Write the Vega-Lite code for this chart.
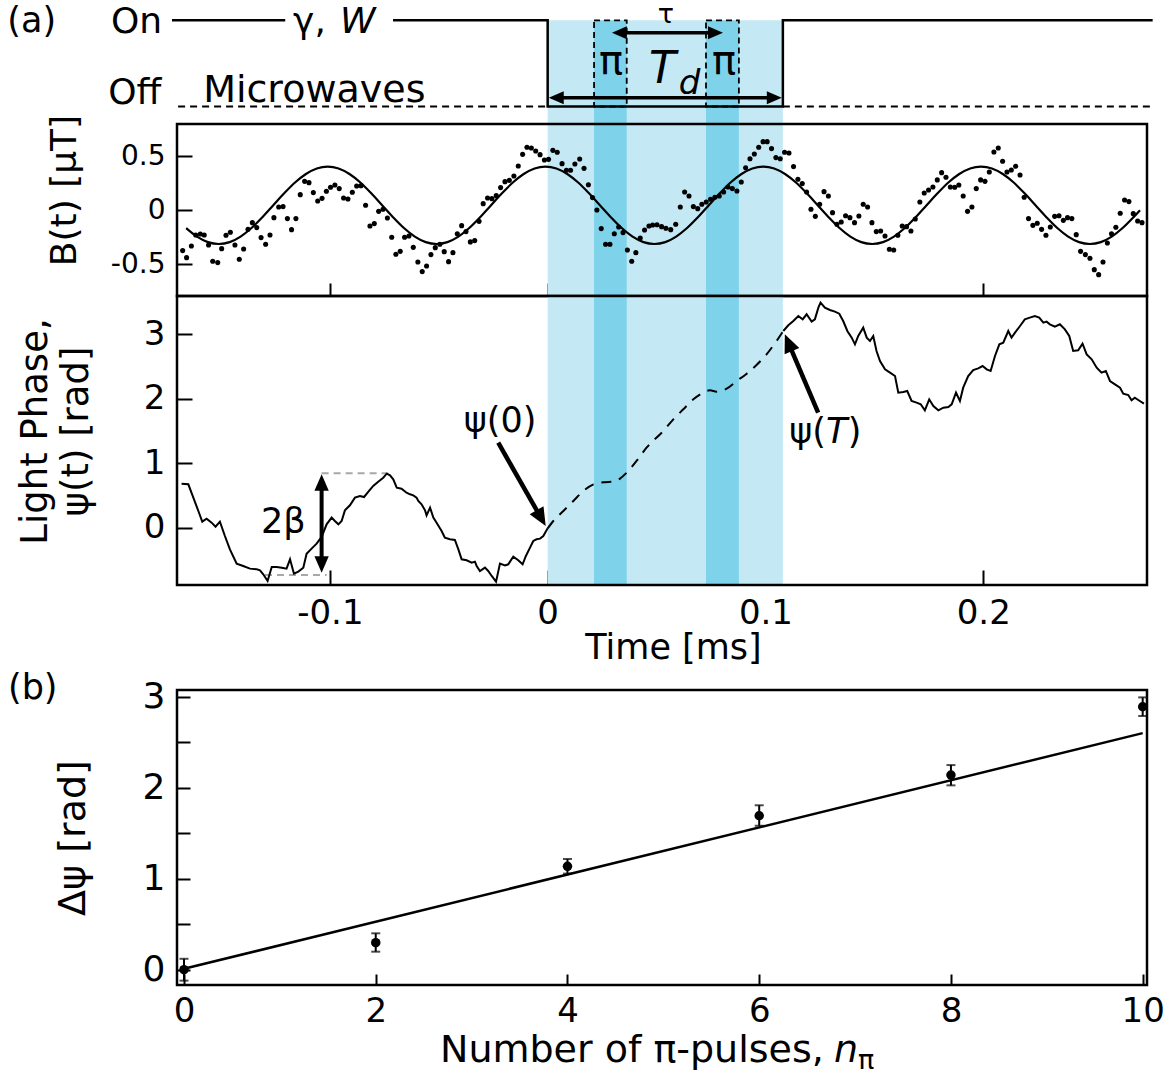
{
"$schema":"https://vega.github.io/schema/vega-lite/v6.json",
"padding":{"left":7,"top":0,"right":0,"bottom":0},
"background":"white",
"config":{"font":"DejaVu Sans","mark":{"color":"black"},"view":{"stroke":null},
"axis":{"domain":false,"grid":false,"ticks":true,"tickColor":"black","tickWidth":2,"labelFont":"DejaVu Sans","titleFont":"DejaVu Sans","labelColor":"black","titleColor":"black","titleFontWeight":"normal","zindex":1,"labelOverlap":false,"labelFlush":false}},
"datasets":{
"bands":[{"t1":0,"t2":0.108,"kind":"Td"},{"t1":0.0213,"t2":0.0363,"kind":"pi"},{"t1":0.0727,"t2":0.0878,"kind":"pi"}],
"pulse_on":[{"seg":"a","i":0,"t":-0.1725,"lvl":1},{"seg":"a","i":1,"t":-0.1205,"lvl":1},{"seg":"b","i":0,"t":-0.071,"lvl":1},{"seg":"b","i":1,"t":0,"lvl":1},{"seg":"b","i":2,"t":0,"lvl":0},{"seg":"b","i":3,"t":0.108,"lvl":0},{"seg":"b","i":4,"t":0.108,"lvl":1},{"seg":"b","i":5,"t":0.2778,"lvl":1}],
"pulse_off":[{"seg":"a","t":-0.1697,"lvl":0},{"seg":"a","t":0,"lvl":0},{"seg":"b","t":0.108,"lvl":0},{"seg":"b","t":0.2778,"lvl":0}],
"bfit":[{"t":-0.166,"b":-0.164},{"t":-0.161,"b":-0.243},{"t":-0.156,"b":-0.294},{"t":-0.151,"b":-0.311},{"t":-0.146,"b":-0.294},{"t":-0.141,"b":-0.243},{"t":-0.136,"b":-0.164},{"t":-0.131,"b":-0.064},{"t":-0.126,"b":0.046},{"t":-0.121,"b":0.156},{"t":-0.116,"b":0.256},{"t":-0.111,"b":0.335},{"t":-0.106,"b":0.386},{"t":-0.101,"b":0.403},{"t":-0.096,"b":0.386},{"t":-0.091,"b":0.335},{"t":-0.086,"b":0.256},{"t":-0.081,"b":0.156},{"t":-0.076,"b":0.046},{"t":-0.071,"b":-0.064},{"t":-0.066,"b":-0.164},{"t":-0.061,"b":-0.243},{"t":-0.056,"b":-0.294},{"t":-0.051,"b":-0.311},{"t":-0.046,"b":-0.294},{"t":-0.041,"b":-0.243},{"t":-0.036,"b":-0.164},{"t":-0.031,"b":-0.064},{"t":-0.026,"b":0.046},{"t":-0.021,"b":0.156},{"t":-0.016,"b":0.256},{"t":-0.011,"b":0.335},{"t":-0.006,"b":0.386},{"t":-0.001,"b":0.403},{"t":0.004,"b":0.386},{"t":0.009,"b":0.335},{"t":0.014,"b":0.256},{"t":0.019,"b":0.156},{"t":0.024,"b":0.046},{"t":0.029,"b":-0.064},{"t":0.034,"b":-0.164},{"t":0.039,"b":-0.243},{"t":0.044,"b":-0.294},{"t":0.049,"b":-0.311},{"t":0.054,"b":-0.294},{"t":0.059,"b":-0.243},{"t":0.064,"b":-0.164},{"t":0.069,"b":-0.064},{"t":0.074,"b":0.046},{"t":0.079,"b":0.156},{"t":0.084,"b":0.256},{"t":0.089,"b":0.335},{"t":0.094,"b":0.386},{"t":0.099,"b":0.403},{"t":0.104,"b":0.386},{"t":0.109,"b":0.335},{"t":0.114,"b":0.256},{"t":0.119,"b":0.156},{"t":0.124,"b":0.046},{"t":0.129,"b":-0.064},{"t":0.134,"b":-0.164},{"t":0.139,"b":-0.243},{"t":0.144,"b":-0.294},{"t":0.149,"b":-0.311},{"t":0.154,"b":-0.294},{"t":0.159,"b":-0.243},{"t":0.164,"b":-0.164},{"t":0.169,"b":-0.064},{"t":0.174,"b":0.046},{"t":0.179,"b":0.156},{"t":0.184,"b":0.256},{"t":0.189,"b":0.335},{"t":0.194,"b":0.386},{"t":0.199,"b":0.403},{"t":0.204,"b":0.386},{"t":0.209,"b":0.335},{"t":0.214,"b":0.256},{"t":0.219,"b":0.156},{"t":0.224,"b":0.046},{"t":0.229,"b":-0.064},{"t":0.234,"b":-0.164},{"t":0.239,"b":-0.243},{"t":0.244,"b":-0.294},{"t":0.249,"b":-0.311},{"t":0.254,"b":-0.294},{"t":0.259,"b":-0.243},{"t":0.264,"b":-0.164},{"t":0.269,"b":-0.064},{"t":0.272,"b":0.001}],
"bdots":[{"t":-0.1676,"b":-0.372},{"t":-0.1658,"b":-0.437},{"t":-0.1636,"b":-0.329},{"t":-0.1616,"b":-0.228},{"t":-0.1595,"b":-0.219},{"t":-0.1577,"b":-0.228},{"t":-0.1557,"b":-0.32},{"t":-0.1538,"b":-0.471},{"t":-0.1515,"b":-0.483},{"t":-0.1497,"b":-0.354},{"t":-0.1477,"b":-0.231},{"t":-0.1457,"b":-0.203},{"t":-0.1436,"b":-0.32},{"t":-0.1416,"b":-0.452},{"t":-0.1396,"b":-0.357},{"t":-0.1376,"b":-0.176},{"t":-0.1356,"b":-0.114},{"t":-0.1336,"b":-0.16},{"t":-0.1316,"b":-0.252},{"t":-0.1295,"b":-0.314},{"t":-0.1275,"b":-0.228},{"t":-0.1257,"b":-0.068},{"t":-0.1235,"b":0.03},{"t":-0.1215,"b":0.034},{"t":-0.1195,"b":-0.077},{"t":-0.1176,"b":-0.179},{"t":-0.1156,"b":-0.077},{"t":-0.1136,"b":0.144},{"t":-0.1116,"b":0.267},{"t":-0.1096,"b":0.255},{"t":-0.1076,"b":0.163},{"t":-0.1056,"b":0.086},{"t":-0.1036,"b":0.11},{"t":-0.1016,"b":0.175},{"t":-0.0997,"b":0.212},{"t":-0.0977,"b":0.233},{"t":-0.0957,"b":0.2},{"t":-0.0937,"b":0.113},{"t":-0.0917,"b":0.104},{"t":-0.0897,"b":0.166},{"t":-0.0877,"b":0.224},{"t":-0.0857,"b":0.227},{"t":-0.0836,"b":0.046},{"t":-0.0816,"b":-0.145},{"t":-0.0796,"b":-0.123},{"t":-0.0776,"b":-0.01},{"t":-0.0756,"b":0.009},{"t":-0.0736,"b":-0.071},{"t":-0.0716,"b":-0.249},{"t":-0.0697,"b":-0.406},{"t":-0.0677,"b":-0.379},{"t":-0.0657,"b":-0.249},{"t":-0.0637,"b":-0.237},{"t":-0.0617,"b":-0.342},{"t":-0.0596,"b":-0.477},{"t":-0.0576,"b":-0.566},{"t":-0.0556,"b":-0.514},{"t":-0.0536,"b":-0.409},{"t":-0.0516,"b":-0.345},{"t":-0.0495,"b":-0.314},{"t":-0.0475,"b":-0.382},{"t":-0.0455,"b":-0.474},{"t":-0.0435,"b":-0.391},{"t":-0.0415,"b":-0.216},{"t":-0.0395,"b":-0.142},{"t":-0.0375,"b":-0.197},{"t":-0.0355,"b":-0.292},{"t":-0.0335,"b":-0.28},{"t":-0.0315,"b":-0.102},{"t":-0.0296,"b":0.061},{"t":-0.0276,"b":0.113},{"t":-0.0256,"b":0.107},{"t":-0.0236,"b":0.135},{"t":-0.0216,"b":0.209},{"t":-0.0196,"b":0.264},{"t":-0.0176,"b":0.276},{"t":-0.0155,"b":0.316},{"t":-0.0135,"b":0.409},{"t":-0.0115,"b":0.516},{"t":-0.0095,"b":0.581},{"t":-0.0075,"b":0.575},{"t":-0.0055,"b":0.547},{"t":-0.0035,"b":0.513},{"t":-0.0015,"b":0.464},{"t":0.0004,"b":0.47},{"t":0.0024,"b":0.553},{"t":0.0044,"b":0.535},{"t":0.0066,"b":0.43},{"t":0.0086,"b":0.369},{"t":0.0105,"b":0.369},{"t":0.0125,"b":0.427},{"t":0.0147,"b":0.473},{"t":0.0167,"b":0.387},{"t":0.0187,"b":0.236},{"t":0.0206,"b":0.117},{"t":0.0226,"b":0.003},{"t":0.0246,"b":-0.169},{"t":0.0266,"b":-0.314},{"t":0.0286,"b":-0.314},{"t":0.0306,"b":-0.216},{"t":0.0326,"b":-0.154},{"t":0.0346,"b":-0.206},{"t":0.0366,"b":-0.366},{"t":0.0386,"b":-0.471},{"t":0.0405,"b":-0.391},{"t":0.0425,"b":-0.256},{"t":0.0445,"b":-0.182},{"t":0.0465,"b":-0.145},{"t":0.0482,"b":-0.136},{"t":0.0502,"b":-0.133},{"t":0.0523,"b":-0.151},{"t":0.0543,"b":-0.166},{"t":0.0565,"b":-0.179},{"t":0.0588,"b":-0.129},{"t":0.0609,"b":0.03},{"t":0.0629,"b":0.169},{"t":0.0649,"b":0.132},{"t":0.0669,"b":0.034},{"t":0.0689,"b":0.015},{"t":0.0708,"b":0.055},{"t":0.0728,"b":0.077},{"t":0.0748,"b":0.101},{"t":0.0768,"b":0.12},{"t":0.0788,"b":0.132},{"t":0.0808,"b":0.169},{"t":0.0828,"b":0.215},{"t":0.0848,"b":0.2},{"t":0.0869,"b":0.178},{"t":0.0889,"b":0.261},{"t":0.0909,"b":0.393},{"t":0.0929,"b":0.476},{"t":0.0949,"b":0.519},{"t":0.0969,"b":0.581},{"t":0.0989,"b":0.633},{"t":0.1008,"b":0.633},{"t":0.1028,"b":0.569},{"t":0.1048,"b":0.486},{"t":0.1068,"b":0.476},{"t":0.1088,"b":0.535},{"t":0.1108,"b":0.529},{"t":0.1129,"b":0.403},{"t":0.1149,"b":0.286},{"t":0.1169,"b":0.246},{"t":0.1189,"b":0.169},{"t":0.1209,"b":0.009},{"t":0.1229,"b":-0.056},{"t":0.1249,"b":0.055},{"t":0.1269,"b":0.172},{"t":0.1289,"b":0.132},{"t":0.1308,"b":-0.022},{"t":0.1328,"b":-0.129},{"t":0.1348,"b":-0.108},{"t":0.1368,"b":-0.05},{"t":0.1388,"b":-0.068},{"t":0.1409,"b":-0.114},{"t":0.1429,"b":-0.053},{"t":0.1449,"b":0.055},{"t":0.1469,"b":0.03},{"t":0.1489,"b":-0.114},{"t":0.1509,"b":-0.197},{"t":0.1529,"b":-0.191},{"t":0.1549,"b":-0.237},{"t":0.1569,"b":-0.36},{"t":0.1589,"b":-0.366},{"t":0.1608,"b":-0.231},{"t":0.1628,"b":-0.145},{"t":0.1648,"b":-0.151},{"t":0.1668,"b":-0.191},{"t":0.1688,"b":-0.08},{"t":0.1709,"b":0.077},{"t":0.1729,"b":0.16},{"t":0.1749,"b":0.187},{"t":0.1769,"b":0.215},{"t":0.1789,"b":0.28},{"t":0.1809,"b":0.347},{"t":0.1829,"b":0.304},{"t":0.1849,"b":0.215},{"t":0.1869,"b":0.212},{"t":0.1888,"b":0.233},{"t":0.1908,"b":0.132},{"t":0.1928,"b":-0.01},{"t":0.1948,"b":0.03},{"t":0.1968,"b":0.2},{"t":0.1988,"b":0.28},{"t":0.2008,"b":0.267},{"t":0.2028,"b":0.353},{"t":0.2049,"b":0.538},{"t":0.2069,"b":0.575},{"t":0.2089,"b":0.452},{"t":0.2109,"b":0.353},{"t":0.2129,"b":0.372},{"t":0.2149,"b":0.406},{"t":0.2169,"b":0.326},{"t":0.2188,"b":0.12},{"t":0.2208,"b":-0.077},{"t":0.2228,"b":-0.139},{"t":0.2248,"b":-0.12},{"t":0.2268,"b":-0.176},{"t":0.2288,"b":-0.231},{"t":0.2308,"b":-0.154},{"t":0.2328,"b":-0.056},{"t":0.2348,"b":-0.05},{"t":0.2368,"b":-0.093},{"t":0.2387,"b":-0.068},{"t":0.2407,"b":-0.077},{"t":0.2427,"b":-0.225},{"t":0.2447,"b":-0.379},{"t":0.2469,"b":-0.409},{"t":0.249,"b":-0.443},{"t":0.251,"b":-0.548},{"t":0.253,"b":-0.594},{"t":0.255,"b":-0.477},{"t":0.257,"b":-0.302},{"t":0.2589,"b":-0.216},{"t":0.2609,"b":-0.157},{"t":0.2629,"b":-0.028},{"t":0.2649,"b":0.095},{"t":0.2669,"b":0.08},{"t":0.2689,"b":-0.031},{"t":0.2709,"b":-0.099},{"t":0.2729,"b":-0.114}],
"phase_pre":[{"t":-0.1681,"p":0.683},{"t":-0.165,"p":0.673},{"t":-0.1627,"p":0.466},{"t":-0.1604,"p":0.259},{"t":-0.1586,"p":0.094},{"t":-0.1566,"p":0.14},{"t":-0.1543,"p":0.078},{"t":-0.1525,"p":0.016},{"t":-0.1505,"p":0.094},{"t":-0.1482,"p":-0.129},{"t":-0.1459,"p":-0.336},{"t":-0.1428,"p":-0.558},{"t":-0.1398,"p":-0.594},{"t":-0.1367,"p":-0.635},{"t":-0.1336,"p":-0.646},{"t":-0.1321,"p":-0.661},{"t":-0.1306,"p":-0.723},{"t":-0.1286,"p":-0.827},{"t":-0.1267,"p":-0.61},{"t":-0.1244,"p":-0.61},{"t":-0.1221,"p":-0.62},{"t":-0.1199,"p":-0.635},{"t":-0.1183,"p":-0.491},{"t":-0.1165,"p":-0.713},{"t":-0.1145,"p":-0.682},{"t":-0.1122,"p":-0.62},{"t":-0.1107,"p":-0.403},{"t":-0.1084,"p":-0.325},{"t":-0.1061,"p":-0.248},{"t":-0.1038,"p":-0.144},{"t":-0.1015,"p":0.052},{"t":-0.0992,"p":0.156},{"t":-0.0977,"p":0.104},{"t":-0.0961,"p":0.052},{"t":-0.0946,"p":0.104},{"t":-0.0931,"p":0.269},{"t":-0.0908,"p":0.347},{"t":-0.0885,"p":0.466},{"t":-0.0862,"p":0.492},{"t":-0.0843,"p":0.476},{"t":-0.0824,"p":0.554},{"t":-0.0801,"p":0.647},{"t":-0.0778,"p":0.714},{"t":-0.0755,"p":0.776},{"t":-0.0739,"p":0.838},{"t":-0.0724,"p":0.812},{"t":-0.0709,"p":0.75},{"t":-0.0693,"p":0.621},{"t":-0.0671,"p":0.605},{"t":-0.0648,"p":0.543},{"t":-0.0632,"p":0.518},{"t":-0.0617,"p":0.502},{"t":-0.0602,"p":0.466},{"t":-0.0594,"p":0.414},{"t":-0.0579,"p":0.362},{"t":-0.0563,"p":0.269},{"t":-0.0556,"p":0.192},{"t":-0.054,"p":0.311},{"t":-0.0525,"p":0.156},{"t":-0.051,"p":0.078},{"t":-0.0487,"p":-0.051},{"t":-0.0472,"p":-0.155},{"t":-0.0449,"p":-0.18},{"t":-0.0426,"p":-0.191},{"t":-0.041,"p":-0.336},{"t":-0.0395,"p":-0.491},{"t":-0.0372,"p":-0.506},{"t":-0.0349,"p":-0.542},{"t":-0.0334,"p":-0.527},{"t":-0.0326,"p":-0.594},{"t":-0.0311,"p":-0.672},{"t":-0.0288,"p":-0.62},{"t":-0.0273,"p":-0.672},{"t":-0.0257,"p":-0.749},{"t":-0.0237,"p":-0.837},{"t":-0.0219,"p":-0.558},{"t":-0.0196,"p":-0.584},{"t":-0.0181,"p":-0.568},{"t":-0.0158,"p":-0.449},{"t":-0.0135,"p":-0.506},{"t":-0.0115,"p":-0.568},{"t":-0.01,"p":-0.439},{"t":-0.0081,"p":-0.31},{"t":-0.0066,"p":-0.206},{"t":-0.0051,"p":-0.18},{"t":-0.0035,"p":-0.17},{"t":-0.002,"p":-0.129},{"t":-0.0009,"p":-0.062},{"t":0,"p":-0.01}],
"phase_dash":[{"t":0,"p":-0.01},{"t":0.0026,"p":0.104},{"t":0.0072,"p":0.259},{"t":0.0118,"p":0.414},{"t":0.0164,"p":0.569},{"t":0.021,"p":0.673},{"t":0.0255,"p":0.704},{"t":0.0301,"p":0.714},{"t":0.0332,"p":0.761},{"t":0.0363,"p":0.854},{"t":0.0408,"p":1.035},{"t":0.0454,"p":1.241},{"t":0.0531,"p":1.5},{"t":0.0577,"p":1.681},{"t":0.0623,"p":1.836},{"t":0.0669,"p":1.991},{"t":0.0715,"p":2.095},{"t":0.0745,"p":2.131},{"t":0.0776,"p":2.11},{"t":0.0822,"p":2.157},{"t":0.0868,"p":2.276},{"t":0.0914,"p":2.389},{"t":0.0959,"p":2.524},{"t":0.1005,"p":2.689},{"t":0.1051,"p":2.896},{"t":0.1082,"p":3.051}],
"phase_post":[{"t":0.1082,"p":3.051},{"t":0.1105,"p":3.139},{"t":0.1128,"p":3.206},{"t":0.1151,"p":3.284},{"t":0.1171,"p":3.232},{"t":0.1189,"p":3.31},{"t":0.1212,"p":3.196},{"t":0.1227,"p":3.232},{"t":0.1243,"p":3.413},{"t":0.1253,"p":3.491},{"t":0.1273,"p":3.413},{"t":0.1296,"p":3.377},{"t":0.1319,"p":3.351},{"t":0.1339,"p":3.32},{"t":0.1357,"p":3.206},{"t":0.1376,"p":3.051},{"t":0.1396,"p":2.948},{"t":0.1411,"p":2.844},{"t":0.1426,"p":2.974},{"t":0.1449,"p":3.103},{"t":0.1465,"p":2.948},{"t":0.148,"p":2.896},{"t":0.1495,"p":2.974},{"t":0.151,"p":2.741},{"t":0.1526,"p":2.586},{"t":0.1549,"p":2.457},{"t":0.1572,"p":2.405},{"t":0.1595,"p":2.353},{"t":0.161,"p":2.095},{"t":0.1633,"p":2.105},{"t":0.1651,"p":2.12},{"t":0.1671,"p":1.965},{"t":0.1694,"p":1.94},{"t":0.1713,"p":1.914},{"t":0.1732,"p":1.821},{"t":0.1752,"p":1.991},{"t":0.1771,"p":1.888},{"t":0.1794,"p":1.821},{"t":0.1817,"p":1.862},{"t":0.184,"p":1.872},{"t":0.1855,"p":1.914},{"t":0.1875,"p":2.095},{"t":0.1893,"p":1.965},{"t":0.1908,"p":2.172},{"t":0.1931,"p":2.353},{"t":0.1954,"p":2.446},{"t":0.1977,"p":2.472},{"t":0.1997,"p":2.508},{"t":0.2016,"p":2.457},{"t":0.2034,"p":2.431},{"t":0.2054,"p":2.663},{"t":0.2074,"p":2.844},{"t":0.2092,"p":2.87},{"t":0.2115,"p":3.051},{"t":0.213,"p":2.948},{"t":0.2146,"p":3.025},{"t":0.2169,"p":3.129},{"t":0.2191,"p":3.232},{"t":0.2214,"p":3.258},{"t":0.2237,"p":3.284},{"t":0.2257,"p":3.258},{"t":0.2276,"p":3.18},{"t":0.2291,"p":3.196},{"t":0.2306,"p":3.155},{"t":0.2329,"p":3.118},{"t":0.2352,"p":3.155},{"t":0.2375,"p":3.077},{"t":0.2395,"p":2.974},{"t":0.2413,"p":2.741},{"t":0.2436,"p":2.751},{"t":0.2456,"p":2.855},{"t":0.2475,"p":2.689},{"t":0.2498,"p":2.612},{"t":0.2521,"p":2.482},{"t":0.2543,"p":2.405},{"t":0.2563,"p":2.431},{"t":0.2582,"p":2.276},{"t":0.2605,"p":2.224},{"t":0.2628,"p":2.172},{"t":0.2643,"p":2.079},{"t":0.2666,"p":2.058},{"t":0.2681,"p":1.976},{"t":0.2696,"p":2.017},{"t":0.2719,"p":1.965},{"t":0.2738,"p":1.924}],
"npi":[{"n":0,"d":0.0,"lo":-0.12,"hi":0.12},{"n":2,"d":0.297,"lo":0.198,"hi":0.4},{"n":4,"d":1.136,"lo":1.056,"hi":1.217},{"n":6,"d":1.692,"lo":1.582,"hi":1.807},{"n":8,"d":2.14,"lo":2.026,"hi":2.249},{"n":10,"d":2.89,"lo":2.788,"hi":2.993}],
"npi_fit":[{"n":0,"d":0.01},{"n":10,"d":2.6}]
},
"spacing":0,
"bounds":"flush",
"resolve":{"scale":{"x":"independent","y":"independent"}},
"vconcat":[
{"width":970,"height":123,
"layer":[
{"data":{"name":"bands"},"mark":{"type":"rect"},"encoding":{"x":{"field":"t1","type":"quantitative","scale":{"domain":[-0.1702,0.2752],"nice":false,"zero":false},"axis":null},"x2":{"field":"t2"},"y":{"datum":-0.203,"type":"quantitative","scale":{"domain":[-0.203,1.224],"nice":false,"zero":false},"axis":null},"y2":{"datum":1},"fill":{"field":"kind","type":"nominal","scale":{"domain":["Td","pi"],"range":["#C5E9F4","#7ED3EA"]},"legend":null}}},
{"data":{"name":"bands"},"transform":[{"filter":"datum.kind === 'pi'"}],"mark":{"type":"rect","filled":false,"stroke":"black","strokeWidth":1.8,"strokeDash":[6,4]},"encoding":{"x":{"field":"t1","type":"quantitative","scale":{"domain":[-0.1702,0.2752],"nice":false,"zero":false},"axis":null},"x2":{"field":"t2"},"y":{"datum":0,"type":"quantitative","scale":{"domain":[-0.203,1.224],"nice":false,"zero":false},"axis":null},"y2":{"datum":1}}},
{"data":{"name":"pulse_off"},"mark":{"type":"line","strokeWidth":1.8,"strokeDash":[7,5]},"encoding":{"x":{"field":"t","type":"quantitative","scale":{"domain":[-0.1702,0.2752],"nice":false,"zero":false},"axis":null},"y":{"field":"lvl","type":"quantitative","scale":{"domain":[-0.203,1.224],"nice":false,"zero":false},"axis":null},"detail":{"field":"seg"}}},
{"data":{"name":"pulse_on"},"mark":{"type":"line","strokeWidth":2.5},"encoding":{"x":{"field":"t","type":"quantitative","scale":{"domain":[-0.1702,0.2752],"nice":false,"zero":false},"axis":null},"y":{"field":"lvl","type":"quantitative","scale":{"domain":[-0.203,1.224],"nice":false,"zero":false},"axis":null},"detail":{"field":"seg"},"order":{"field":"i"}}},
{"data":{"values":[{}]},"mark":{"type":"rule","strokeWidth":3.5},"encoding":{"x":{"datum":0.004,"type":"quantitative","scale":{"domain":[-0.1702,0.2752],"nice":false,"zero":false},"axis":null},"x2":{"datum":0.104},"y":{"datum":0.102,"type":"quantitative","scale":{"domain":[-0.203,1.224],"nice":false,"zero":false},"axis":null}}},
{"data":{"values":[{}]},"mark":{"type":"rule","strokeWidth":3.5},"encoding":{"x":{"datum":0.034,"type":"quantitative","scale":{"domain":[-0.1702,0.2752],"nice":false,"zero":false},"axis":null},"x2":{"datum":0.076},"y":{"datum":0.856,"type":"quantitative","scale":{"domain":[-0.203,1.224],"nice":false,"zero":false},"axis":null}}},
{"data":{"values":[{}]},"mark":{"type":"point","shape":"M0,0L0.7,1.6L-0.7,1.6Z","filled":true,"opacity":1,"size":350,"angle":270},"encoding":{"x":{"datum":0.0005,"type":"quantitative","scale":{"domain":[-0.1702,0.2752],"nice":false,"zero":false},"axis":null},"y":{"datum":0.102,"type":"quantitative","scale":{"domain":[-0.203,1.224],"nice":false,"zero":false},"axis":null}}},
{"data":{"values":[{}]},"mark":{"type":"point","shape":"M0,0L0.7,1.6L-0.7,1.6Z","filled":true,"opacity":1,"size":350,"angle":90},"encoding":{"x":{"datum":0.1075,"type":"quantitative","scale":{"domain":[-0.1702,0.2752],"nice":false,"zero":false},"axis":null},"y":{"datum":0.102,"type":"quantitative","scale":{"domain":[-0.203,1.224],"nice":false,"zero":false},"axis":null}}},
{"data":{"values":[{}]},"mark":{"type":"point","shape":"M0,0L0.7,1.6L-0.7,1.6Z","filled":true,"opacity":1,"size":350,"angle":270},"encoding":{"x":{"datum":0.0295,"type":"quantitative","scale":{"domain":[-0.1702,0.2752],"nice":false,"zero":false},"axis":null},"y":{"datum":0.856,"type":"quantitative","scale":{"domain":[-0.203,1.224],"nice":false,"zero":false},"axis":null}}},
{"data":{"values":[{}]},"mark":{"type":"point","shape":"M0,0L0.7,1.6L-0.7,1.6Z","filled":true,"opacity":1,"size":350,"angle":90},"encoding":{"x":{"datum":0.0805,"type":"quantitative","scale":{"domain":[-0.1702,0.2752],"nice":false,"zero":false},"axis":null},"y":{"datum":0.856,"type":"quantitative","scale":{"domain":[-0.203,1.224],"nice":false,"zero":false},"axis":null}}},
{"data":{"values":[{"s":"(a)","t":-0.2481,"v":0.864}]},"mark":{"type":"text","align":"left","baseline":"alphabetic","fontSize":35},"encoding":{"x":{"field":"t","type":"quantitative","scale":{"domain":[-0.1702,0.2752],"nice":false,"zero":false},"axis":null},"y":{"field":"v","type":"quantitative","scale":{"domain":[-0.203,1.224],"nice":false,"zero":false},"axis":null},"text":{"field":"s"}}},
{"data":{"values":[{"s":"On","t":-0.2005,"v":0.853},{"s":"Off","t":-0.2018,"v":0.028},{"s":"γ,","t":-0.1169,"v":0.853}]},"mark":{"type":"text","align":"left","baseline":"alphabetic","fontSize":36},"encoding":{"x":{"field":"t","type":"quantitative","scale":{"domain":[-0.1702,0.2752],"nice":false,"zero":false},"axis":null},"y":{"field":"v","type":"quantitative","scale":{"domain":[-0.203,1.224],"nice":false,"zero":false},"axis":null},"text":{"field":"s"}}},
{"data":{"values":[{"s":"W","t":-0.0953,"v":0.853}]},"mark":{"type":"text","align":"left","baseline":"alphabetic","fontSize":36,"fontStyle":"italic"},"encoding":{"x":{"field":"t","type":"quantitative","scale":{"domain":[-0.1702,0.2752],"nice":false,"zero":false},"axis":null},"y":{"field":"v","type":"quantitative","scale":{"domain":[-0.203,1.224],"nice":false,"zero":false},"axis":null},"text":{"field":"s"}}},
{"data":{"values":[{"s":"Microwaves","t":-0.1582,"v":0.052}]},"mark":{"type":"text","align":"left","baseline":"alphabetic","fontSize":38},"encoding":{"x":{"field":"t","type":"quantitative","scale":{"domain":[-0.1702,0.2752],"nice":false,"zero":false},"axis":null},"y":{"field":"v","type":"quantitative","scale":{"domain":[-0.203,1.224],"nice":false,"zero":false},"axis":null},"text":{"field":"s"}}},
{"data":{"values":[{"s":"π","t":0.0291,"v":0.377},{"s":"π","t":0.081,"v":0.377}]},"mark":{"type":"text","align":"center","baseline":"alphabetic","fontSize":40},"encoding":{"x":{"field":"t","type":"quantitative","scale":{"domain":[-0.1702,0.2752],"nice":false,"zero":false},"axis":null},"y":{"field":"v","type":"quantitative","scale":{"domain":[-0.203,1.224],"nice":false,"zero":false},"axis":null},"text":{"field":"s"}}},
{"data":{"values":[{"s":"τ","t":0.0543,"v":0.969}]},"mark":{"type":"text","align":"center","baseline":"alphabetic","fontSize":27},"encoding":{"x":{"field":"t","type":"quantitative","scale":{"domain":[-0.1702,0.2752],"nice":false,"zero":false},"axis":null},"y":{"field":"v","type":"quantitative","scale":{"domain":[-0.203,1.224],"nice":false,"zero":false},"axis":null},"text":{"field":"s"}}},
{"data":{"values":[{"s":"T","t":0.0465,"v":0.273}]},"mark":{"type":"text","align":"left","baseline":"alphabetic","fontSize":44,"fontStyle":"italic"},"encoding":{"x":{"field":"t","type":"quantitative","scale":{"domain":[-0.1702,0.2752],"nice":false,"zero":false},"axis":null},"y":{"field":"v","type":"quantitative","scale":{"domain":[-0.203,1.224],"nice":false,"zero":false},"axis":null},"text":{"field":"s"}}},
{"data":{"values":[{"s":"d","t":0.0602,"v":0.145}]},"mark":{"type":"text","align":"left","baseline":"alphabetic","fontSize":34,"fontStyle":"italic"},"encoding":{"x":{"field":"t","type":"quantitative","scale":{"domain":[-0.1702,0.2752],"nice":false,"zero":false},"axis":null},"y":{"field":"v","type":"quantitative","scale":{"domain":[-0.203,1.224],"nice":false,"zero":false},"axis":null},"text":{"field":"s"}}}
]},
{"width":970,"height":172,
"layer":[
{"data":{"name":"bands"},"mark":{"type":"rect"},"encoding":{"x":{"field":"t1","type":"quantitative","scale":{"domain":[-0.1702,0.2752],"nice":false,"zero":false},"axis":{"values":[-0.1,0,0.1,0.2],"labels":false,"tickSize":-13,"title":null}},"x2":{"field":"t2"},"fill":{"field":"kind","type":"nominal","scale":{"domain":["Td","pi"],"range":["#C5E9F4","#7ED3EA"]},"legend":null}}},
{"data":{"name":"bfit"},"mark":{"type":"line","strokeWidth":2.2,"interpolate":"monotone"},"encoding":{"x":{"field":"t","type":"quantitative","scale":{"domain":[-0.1702,0.2752],"nice":false,"zero":false}},"y":{"field":"b","type":"quantitative","scale":{"domain":[-0.791,0.796],"nice":false,"zero":false},"axis":{"values":[-0.5,0,0.5],"format":"~g","tickSize":-15,"labelPadding":27,"labelFontSize":28,"labelExpr":"replace(datum.label,'−','-')","title":"B(t) [μT]","titleFontSize":36,"titlePadding":27,"titleY":66}}}},
{"data":{"name":"bdots"},"mark":{"type":"circle","size":26,"opacity":1},"encoding":{"x":{"field":"t","type":"quantitative","scale":{"domain":[-0.1702,0.2752],"nice":false,"zero":false}},"y":{"field":"b","type":"quantitative","scale":{"domain":[-0.791,0.796],"nice":false,"zero":false}}}},
{"data":{"values":[{}]},"mark":{"type":"rect","filled":false,"stroke":"black","strokeWidth":2.5},"encoding":{"x":{"datum":-0.1702,"type":"quantitative","scale":{"domain":[-0.1702,0.2752],"nice":false,"zero":false}},"x2":{"datum":0.2752},"y":{"datum":-0.791,"type":"quantitative","scale":{"domain":[-0.791,0.796],"nice":false,"zero":false}},"y2":{"datum":0.796}}}
]},
{"width":970,"height":289,
"layer":[
{"data":{"name":"bands"},"mark":{"type":"rect"},"encoding":{"x":{"field":"t1","type":"quantitative","scale":{"domain":[-0.1702,0.2752],"nice":false,"zero":false},"axis":{"values":[-0.1,0,0.1,0.2],"format":"~g","tickSize":-15,"labelPadding":26,"labelFontSize":34,"labelExpr":"replace(datum.label,'−','-')","title":"Time [ms]","titleFontSize":35,"titleX":496,"titleY":73,"titleBaseline":"alphabetic","titleAlign":"center"}},"x2":{"field":"t2"},"fill":{"field":"kind","type":"nominal","scale":{"domain":["Td","pi"],"range":["#C5E9F4","#7ED3EA"]},"legend":null}}},
{"data":{"values":[{"g":"top","t":-0.1038,"p":0.844},{"g":"top","t":-0.0732,"p":0.844},{"g":"bot","t":-0.1298,"p":-0.734},{"g":"bot","t":-0.1015,"p":-0.734}]},"mark":{"type":"line","color":"#A8A8A8","strokeWidth":2,"strokeDash":[7,5]},"encoding":{"x":{"field":"t","type":"quantitative","scale":{"domain":[-0.1702,0.2752],"nice":false,"zero":false}},"y":{"field":"p","type":"quantitative","scale":{"domain":[-0.889,3.594],"nice":false,"zero":false}},"detail":{"field":"g"}}},
{"data":{"name":"phase_pre"},"mark":{"type":"line","strokeWidth":2},"encoding":{"x":{"field":"t","type":"quantitative","scale":{"domain":[-0.1702,0.2752],"nice":false,"zero":false}},"y":{"field":"p","type":"quantitative","scale":{"domain":[-0.889,3.594],"nice":false,"zero":false},"axis":{"values":[0,1,2,3],"format":"~g","tickSize":-15,"labelPadding":27,"labelFontSize":34,"title":["Light Phase,","ψ(t) [rad]"],"titleFontSize":37,"titleLineHeight":41,"titlePadding":48,"titleY":135}}}},
{"data":{"name":"phase_dash"},"mark":{"type":"line","strokeWidth":2,"strokeDash":[10,8],"interpolate":"monotone"},"encoding":{"x":{"field":"t","type":"quantitative","scale":{"domain":[-0.1702,0.2752],"nice":false,"zero":false}},"y":{"field":"p","type":"quantitative","scale":{"domain":[-0.889,3.594],"nice":false,"zero":false}}}},
{"data":{"name":"phase_post"},"mark":{"type":"line","strokeWidth":2},"encoding":{"x":{"field":"t","type":"quantitative","scale":{"domain":[-0.1702,0.2752],"nice":false,"zero":false}},"y":{"field":"p","type":"quantitative","scale":{"domain":[-0.889,3.594],"nice":false,"zero":false}}}},
{"data":{"values":[{}]},"mark":{"type":"rule","strokeWidth":4.5},"encoding":{"x":{"datum":-0.0227,"type":"quantitative","scale":{"domain":[-0.1702,0.2752],"nice":false,"zero":false}},"x2":{"datum":-0.0032},"y":{"datum":1.318,"type":"quantitative","scale":{"domain":[-0.889,3.594],"nice":false,"zero":false}},"y2":{"datum":0.162}}},
{"data":{"values":[{}]},"mark":{"type":"point","shape":"M0,0L0.7,1.6L-0.7,1.6Z","filled":true,"opacity":1,"size":520,"angle":150},"encoding":{"x":{"datum":-0.0009,"type":"quantitative","scale":{"domain":[-0.1702,0.2752],"nice":false,"zero":false}},"y":{"datum":0.026,"type":"quantitative","scale":{"domain":[-0.889,3.594],"nice":false,"zero":false}}}},
{"data":{"values":[{}]},"mark":{"type":"rule","strokeWidth":4.5},"encoding":{"x":{"datum":0.1242,"type":"quantitative","scale":{"domain":[-0.1702,0.2752],"nice":false,"zero":false}},"x2":{"datum":0.1107},"y":{"datum":1.784,"type":"quantitative","scale":{"domain":[-0.889,3.594],"nice":false,"zero":false}},"y2":{"datum":2.857}}},
{"data":{"values":[{}]},"mark":{"type":"point","shape":"M0,0L0.7,1.6L-0.7,1.6Z","filled":true,"opacity":1,"size":520,"angle":337},"encoding":{"x":{"datum":0.1089,"type":"quantitative","scale":{"domain":[-0.1702,0.2752],"nice":false,"zero":false}},"y":{"datum":3.0,"type":"quantitative","scale":{"domain":[-0.889,3.594],"nice":false,"zero":false}}}},
{"data":{"values":[{}]},"mark":{"type":"rule","strokeWidth":4},"encoding":{"x":{"datum":-0.1038,"type":"quantitative","scale":{"domain":[-0.1702,0.2752],"nice":false,"zero":false}},"y":{"datum":0.673,"type":"quantitative","scale":{"domain":[-0.889,3.594],"nice":false,"zero":false}},"y2":{"datum":-0.543}}},
{"data":{"values":[{}]},"mark":{"type":"point","shape":"M0,0L0.7,1.6L-0.7,1.6Z","filled":true,"opacity":1,"size":420,"angle":0},"encoding":{"x":{"datum":-0.1038,"type":"quantitative","scale":{"domain":[-0.1702,0.2752],"nice":false,"zero":false}},"y":{"datum":0.828,"type":"quantitative","scale":{"domain":[-0.889,3.594],"nice":false,"zero":false}}}},
{"data":{"values":[{}]},"mark":{"type":"point","shape":"M0,0L0.7,1.6L-0.7,1.6Z","filled":true,"opacity":1,"size":420,"angle":180},"encoding":{"x":{"datum":-0.1038,"type":"quantitative","scale":{"domain":[-0.1702,0.2752],"nice":false,"zero":false}},"y":{"datum":-0.699,"type":"quantitative","scale":{"domain":[-0.889,3.594],"nice":false,"zero":false}}}},
{"data":{"values":[{"s":"ψ(0)","t":-0.0219,"p":1.49},{"s":"2β","t":-0.1214,"p":-0.082}]},"mark":{"type":"text","align":"center","baseline":"alphabetic","fontSize":35},"encoding":{"x":{"field":"t","type":"quantitative","scale":{"domain":[-0.1702,0.2752],"nice":false,"zero":false}},"y":{"field":"p","type":"quantitative","scale":{"domain":[-0.889,3.594],"nice":false,"zero":false}},"text":{"field":"s"}}},
{"data":{"values":[{"s":"ψ(","t":0.1278,"p":1.314}]},"mark":{"type":"text","align":"right","baseline":"alphabetic","fontSize":35},"encoding":{"x":{"field":"t","type":"quantitative","scale":{"domain":[-0.1702,0.2752],"nice":false,"zero":false}},"y":{"field":"p","type":"quantitative","scale":{"domain":[-0.889,3.594],"nice":false,"zero":false}},"text":{"field":"s"}}},
{"data":{"values":[{"s":"T","t":0.1278,"p":1.314}]},"mark":{"type":"text","align":"left","baseline":"alphabetic","fontSize":35,"fontStyle":"italic"},"encoding":{"x":{"field":"t","type":"quantitative","scale":{"domain":[-0.1702,0.2752],"nice":false,"zero":false}},"y":{"field":"p","type":"quantitative","scale":{"domain":[-0.889,3.594],"nice":false,"zero":false}},"text":{"field":"s"}}},
{"data":{"values":[{"s":")","t":0.1378,"p":1.314}]},"mark":{"type":"text","align":"left","baseline":"alphabetic","fontSize":35},"encoding":{"x":{"field":"t","type":"quantitative","scale":{"domain":[-0.1702,0.2752],"nice":false,"zero":false}},"y":{"field":"p","type":"quantitative","scale":{"domain":[-0.889,3.594],"nice":false,"zero":false}},"text":{"field":"s"}}},
{"data":{"values":[{}]},"mark":{"type":"rect","filled":false,"stroke":"black","strokeWidth":2.5},"encoding":{"x":{"datum":-0.1702,"type":"quantitative","scale":{"domain":[-0.1702,0.2752],"nice":false,"zero":false}},"x2":{"datum":0.2752},"y":{"datum":-0.889,"type":"quantitative","scale":{"domain":[-0.889,3.594],"nice":false,"zero":false}},"y2":{"datum":3.594}}}
]},
{"width":970,"height":105,"data":{"values":[{}]},"mark":{"type":"text"},"encoding":{"text":{"value":""}}},
{"width":970,"height":295,
"layer":[
{"data":{"name":"npi_fit"},"mark":{"type":"line","strokeWidth":2.5},"encoding":{"x":{"field":"n","type":"quantitative","scale":{"domain":[-0.073,10.045],"nice":false,"zero":false},"axis":{"values":[0,2,4,6,8,10],"format":"~g","tickSize":-11,"labelPadding":20,"labelFontSize":34,"title":null}},"y":{"field":"d","type":"quantitative","scale":{"domain":[-0.168,3.074],"nice":false,"zero":false},"axis":{"values":[0,0.5,1,1.5,2,2.5,3],"format":"~g","tickSize":-13,"labelPadding":25,"labelFontSize":36,"labelExpr":"datum.value % 1 === 0 ? datum.label : ''","title":"Δψ [rad]","titleFontSize":38,"titlePadding":50}}}},
{"data":{"name":"npi"},"mark":{"type":"rule","strokeWidth":2},"encoding":{"x":{"field":"n","type":"quantitative","scale":{"domain":[-0.073,10.045],"nice":false,"zero":false}},"y":{"field":"lo","type":"quantitative","scale":{"domain":[-0.168,3.074],"nice":false,"zero":false}},"y2":{"field":"hi"}}},
{"data":{"name":"npi"},"mark":{"type":"tick","orient":"horizontal","size":9,"thickness":2},"encoding":{"x":{"field":"n","type":"quantitative","scale":{"domain":[-0.073,10.045],"nice":false,"zero":false}},"y":{"field":"lo","type":"quantitative","scale":{"domain":[-0.168,3.074],"nice":false,"zero":false}}}},
{"data":{"name":"npi"},"mark":{"type":"tick","orient":"horizontal","size":9,"thickness":2},"encoding":{"x":{"field":"n","type":"quantitative","scale":{"domain":[-0.073,10.045],"nice":false,"zero":false}},"y":{"field":"hi","type":"quantitative","scale":{"domain":[-0.168,3.074],"nice":false,"zero":false}}}},
{"data":{"name":"npi"},"mark":{"type":"circle","size":90,"opacity":1},"encoding":{"x":{"field":"n","type":"quantitative","scale":{"domain":[-0.073,10.045],"nice":false,"zero":false}},"y":{"field":"d","type":"quantitative","scale":{"domain":[-0.168,3.074],"nice":false,"zero":false}}}},
{"data":{"values":[{"s":"(b)","n":-1.836,"d":2.975}]},"mark":{"type":"text","align":"left","baseline":"alphabetic","fontSize":35},"encoding":{"x":{"field":"n","type":"quantitative","scale":{"domain":[-0.073,10.045],"nice":false,"zero":false}},"y":{"field":"d","type":"quantitative","scale":{"domain":[-0.168,3.074],"nice":false,"zero":false}},"text":{"field":"s"}}},
{"data":{"values":[{"s":"Number of π-pulses,","n":2.67,"d":-1.014}]},"mark":{"type":"text","align":"left","baseline":"alphabetic","fontSize":38},"encoding":{"x":{"field":"n","type":"quantitative","scale":{"domain":[-0.073,10.045],"nice":false,"zero":false}},"y":{"field":"d","type":"quantitative","scale":{"domain":[-0.168,3.074],"nice":false,"zero":false}},"text":{"field":"s"}}},
{"data":{"values":[{"s":"n","n":6.78,"d":-1.014}]},"mark":{"type":"text","align":"left","baseline":"alphabetic","fontSize":38,"fontStyle":"italic"},"encoding":{"x":{"field":"n","type":"quantitative","scale":{"domain":[-0.073,10.045],"nice":false,"zero":false}},"y":{"field":"d","type":"quantitative","scale":{"domain":[-0.168,3.074],"nice":false,"zero":false}},"text":{"field":"s"}}},
{"data":{"values":[{"s":"π","n":7.03,"d":-1.095}]},"mark":{"type":"text","align":"left","baseline":"alphabetic","fontSize":27},"encoding":{"x":{"field":"n","type":"quantitative","scale":{"domain":[-0.073,10.045],"nice":false,"zero":false}},"y":{"field":"d","type":"quantitative","scale":{"domain":[-0.168,3.074],"nice":false,"zero":false}},"text":{"field":"s"}}},
{"data":{"values":[{}]},"mark":{"type":"rect","filled":false,"stroke":"black","strokeWidth":2.5},"encoding":{"x":{"datum":-0.073,"type":"quantitative","scale":{"domain":[-0.073,10.045],"nice":false,"zero":false}},"x2":{"datum":10.045},"y":{"datum":-0.168,"type":"quantitative","scale":{"domain":[-0.168,3.074],"nice":false,"zero":false}},"y2":{"datum":3.074}}}
]}
]}
